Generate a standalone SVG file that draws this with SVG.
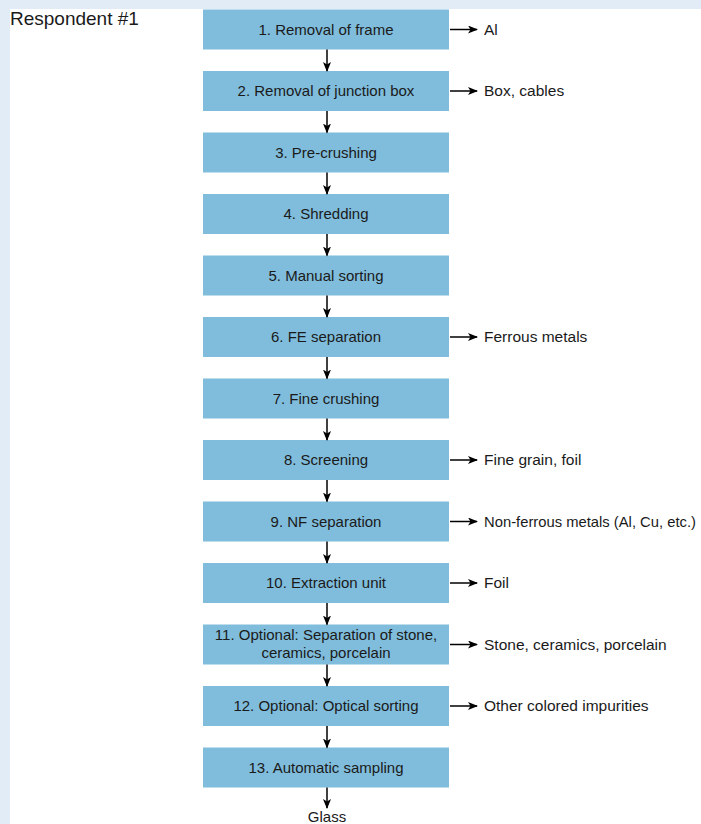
<svg xmlns="http://www.w3.org/2000/svg" width="701" height="824" viewBox="0 0 701 824">
<style>
.bg{fill:#e1ecf7}
.box{fill:#80bddc}
text{font-family:"Liberation Sans","DejaVu Sans",sans-serif;font-size:15px;fill:#1a1a1a}
.c{text-anchor:middle}
.lab{font-size:15.5px}
.ln{stroke:#000;stroke-width:1.5;fill:none}
</style>
<defs>
<marker id="ah" markerWidth="10" markerHeight="8" refX="9" refY="4" orient="auto" markerUnits="userSpaceOnUse">
<path d="M0,0 L10,4 L0,8 L2.5,4 Z" fill="#000"/>
</marker>
</defs>
<rect x="0" y="0" width="701" height="824" class="bg"/>
<rect x="10" y="9" width="691" height="815" fill="#fff"/>
<text x="10" y="25" style="font-size:19px">Respondent #1</text>

<g id="n1"><rect class="box" x="203" y="9.5" width="246" height="40"/><text class="c" x="326" y="34.5">1. Removal of frame</text></g>
<g id="n2"><rect class="box" x="203" y="71" width="246" height="40"/><text class="c" x="326" y="96">2. Removal of junction box</text></g>
<g id="n3"><rect class="box" x="203" y="132.5" width="246" height="40"/><text class="c" x="326" y="157.5">3. Pre-crushing</text></g>
<g id="n4"><rect class="box" x="203" y="194" width="246" height="40"/><text class="c" x="326" y="219">4. Shredding</text></g>
<g id="n5"><rect class="box" x="203" y="255.5" width="246" height="40"/><text class="c" x="326" y="280.5">5. Manual sorting</text></g>
<g id="n6"><rect class="box" x="203" y="317" width="246" height="40"/><text class="c" x="326" y="342">6. FE separation</text></g>
<g id="n7"><rect class="box" x="203" y="378.5" width="246" height="40"/><text class="c" x="326" y="403.5">7. Fine crushing</text></g>
<g id="n8"><rect class="box" x="203" y="440" width="246" height="40"/><text class="c" x="326" y="465">8. Screening</text></g>
<g id="n9"><rect class="box" x="203" y="501.5" width="246" height="40"/><text class="c" x="326" y="526.5">9. NF separation</text></g>
<g id="n10"><rect class="box" x="203" y="563" width="246" height="40"/><text class="c" x="326" y="588">10. Extraction unit</text></g>
<g id="n11"><rect class="box" x="203" y="624.5" width="246" height="40"/><text class="c" x="326" y="640">11. Optional: Separation of stone,</text><text class="c" x="326" y="657.5">ceramics, porcelain</text></g>
<g id="n12"><rect class="box" x="203" y="686" width="246" height="40"/><text class="c" x="326" y="711">12. Optional: Optical sorting</text></g>
<g id="n13"><rect class="box" x="203" y="747.5" width="246" height="40"/><text class="c" x="326" y="772.5">13. Automatic sampling</text></g>

<g id="outputs">
<text class="lab" x="484" y="34.5">Al</text>
<text class="lab" x="484" y="96">Box, cables</text>
<text class="lab" x="484" y="342">Ferrous metals</text>
<text class="lab" x="484" y="465">Fine grain, foil</text>
<text x="484" y="526.5" textLength="212" lengthAdjust="spacingAndGlyphs">Non-ferrous metals (Al, Cu, etc.)</text>
<text class="lab" x="484" y="588">Foil</text>
<text class="lab" x="484" y="649.5">Stone, ceramics, porcelain</text>
<text class="lab" x="484" y="711">Other colored impurities</text>
<text class="c" x="327" y="822">Glass</text>
</g>

<g id="connectors" class="ln" marker-end="url(#ah)">
<path d="M327,49.5 V71"/>
<path d="M327,111 V132.5"/>
<path d="M327,172.5 V194"/>
<path d="M327,234 V255.5"/>
<path d="M327,295.5 V317"/>
<path d="M327,357 V378.5"/>
<path d="M327,418.5 V440"/>
<path d="M327,480 V501.5"/>
<path d="M327,541.5 V563"/>
<path d="M327,603 V624.5"/>
<path d="M327,664.5 V686"/>
<path d="M327,726 V747.5"/>
<path d="M327,787.5 V808"/>
<path d="M450,29.5 H477"/>
<path d="M450,91 H477"/>
<path d="M450,337 H477"/>
<path d="M450,460 H477"/>
<path d="M450,521.5 H477"/>
<path d="M450,583 H477"/>
<path d="M450,644.5 H477"/>
<path d="M450,706 H477"/>
</g>
</svg>
